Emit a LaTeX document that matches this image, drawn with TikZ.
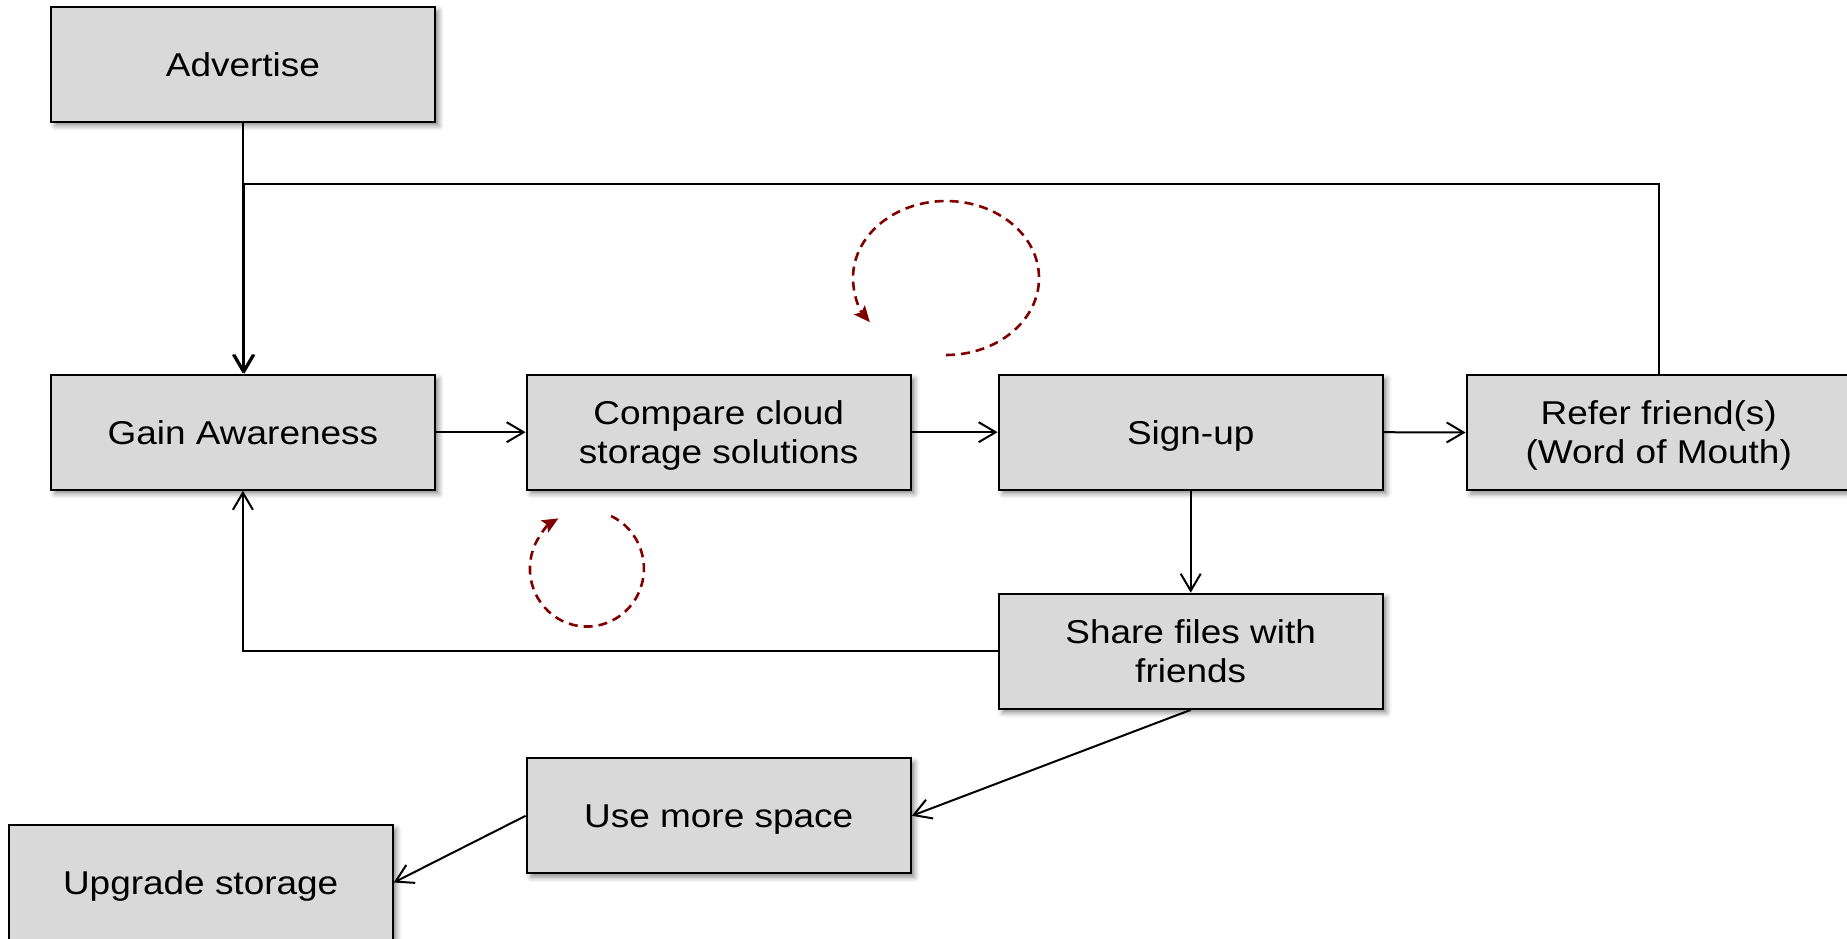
\documentclass[tikz,border=0pt]{standalone}
\usepackage{fontspec}
\setmainfont{Liberation Sans}[FakeStretch=1.12]
\usetikzlibrary{arrows.meta,shadows.blur}

\definecolor{boxfill}{RGB}{217,217,217}
\definecolor{loopred}{RGB}{128,0,0}

\tikzset{
  stagebox/.style={draw=black, line width=2.2pt, fill=boxfill,
    minimum width=384pt, minimum height=115pt, inner sep=0pt,
    align=center, font=\fontsize{33}{39}\selectfont, text depth=0pt,
    blur shadow={shadow xshift=4pt, shadow yshift=-4pt,
      shadow blur radius=5pt, shadow opacity=45}},
  flow/.style={draw=black, line width=2pt,
    -{Straight Barb[length=17pt,width=20pt,line width=2pt]}},
  loop/.style={draw=loopred, line width=2.6pt, dash pattern=on 9pt off 6pt,
    -{Stealth[length=16pt,width=14pt,inset=3pt]}}
}

\begin{document}
\begin{tikzpicture}[x=1pt,y=-1pt]
  \useasboundingbox (0,0) rectangle (1847,938);

  % stages of the funnel
  \node[stagebox] (adv)   at (242.9,64.2)   {Advertise};
  \node[stagebox] (gain)  at (242.9,432.2)  {Gain Awareness};
  \node[stagebox] (comp)  at (718.7,432.2)  {Compare cloud\\storage solutions};
  \node[stagebox] (sign)  at (1190.7,432.2) {Sign-up};
  \node[stagebox] (refer) at (1658.7,432.5) {Refer friend(s)\\(Word of Mouth)};
  \node[stagebox] (share) at (1190.7,651.3) {Share files with\\friends};
  \node[stagebox] (use)   at (718.7,815.8)  {Use more space};
  \node[stagebox] (upg)   at (200.7,882.5)  {Upgrade storage};

  % main flow
  \draw[flow] (adv.south) -- (gain.north);
  \draw[flow] (gain.east) -- (comp.west);
  \draw[flow] (comp.east) -- (sign.west);
  \draw[flow] (sign.east) -- (refer.west);
  \draw[flow] (sign.south) -- (share.north);
  \draw[flow] (share.south) -- (use.east);
  \draw[flow] (use.west) -- (upg.east);

  % word of mouth brings new users back to awareness
  \coordinate (wom) at (244.4,184.3);
  \draw[flow] (refer.north) |- (wom) -- (wom |- gain.north);

  % sharing files also raises awareness
  \draw[flow] (share.west) -| (gain.south);

  % reinforcing loops
  \draw[loop] (946,355) arc[start angle=90, end angle=-215, x radius=93, y radius=77];
  \draw[loop] (611,516) arc[start angle=-65, end angle=240, x radius=57, y radius=58];
\end{tikzpicture}
\end{document}
